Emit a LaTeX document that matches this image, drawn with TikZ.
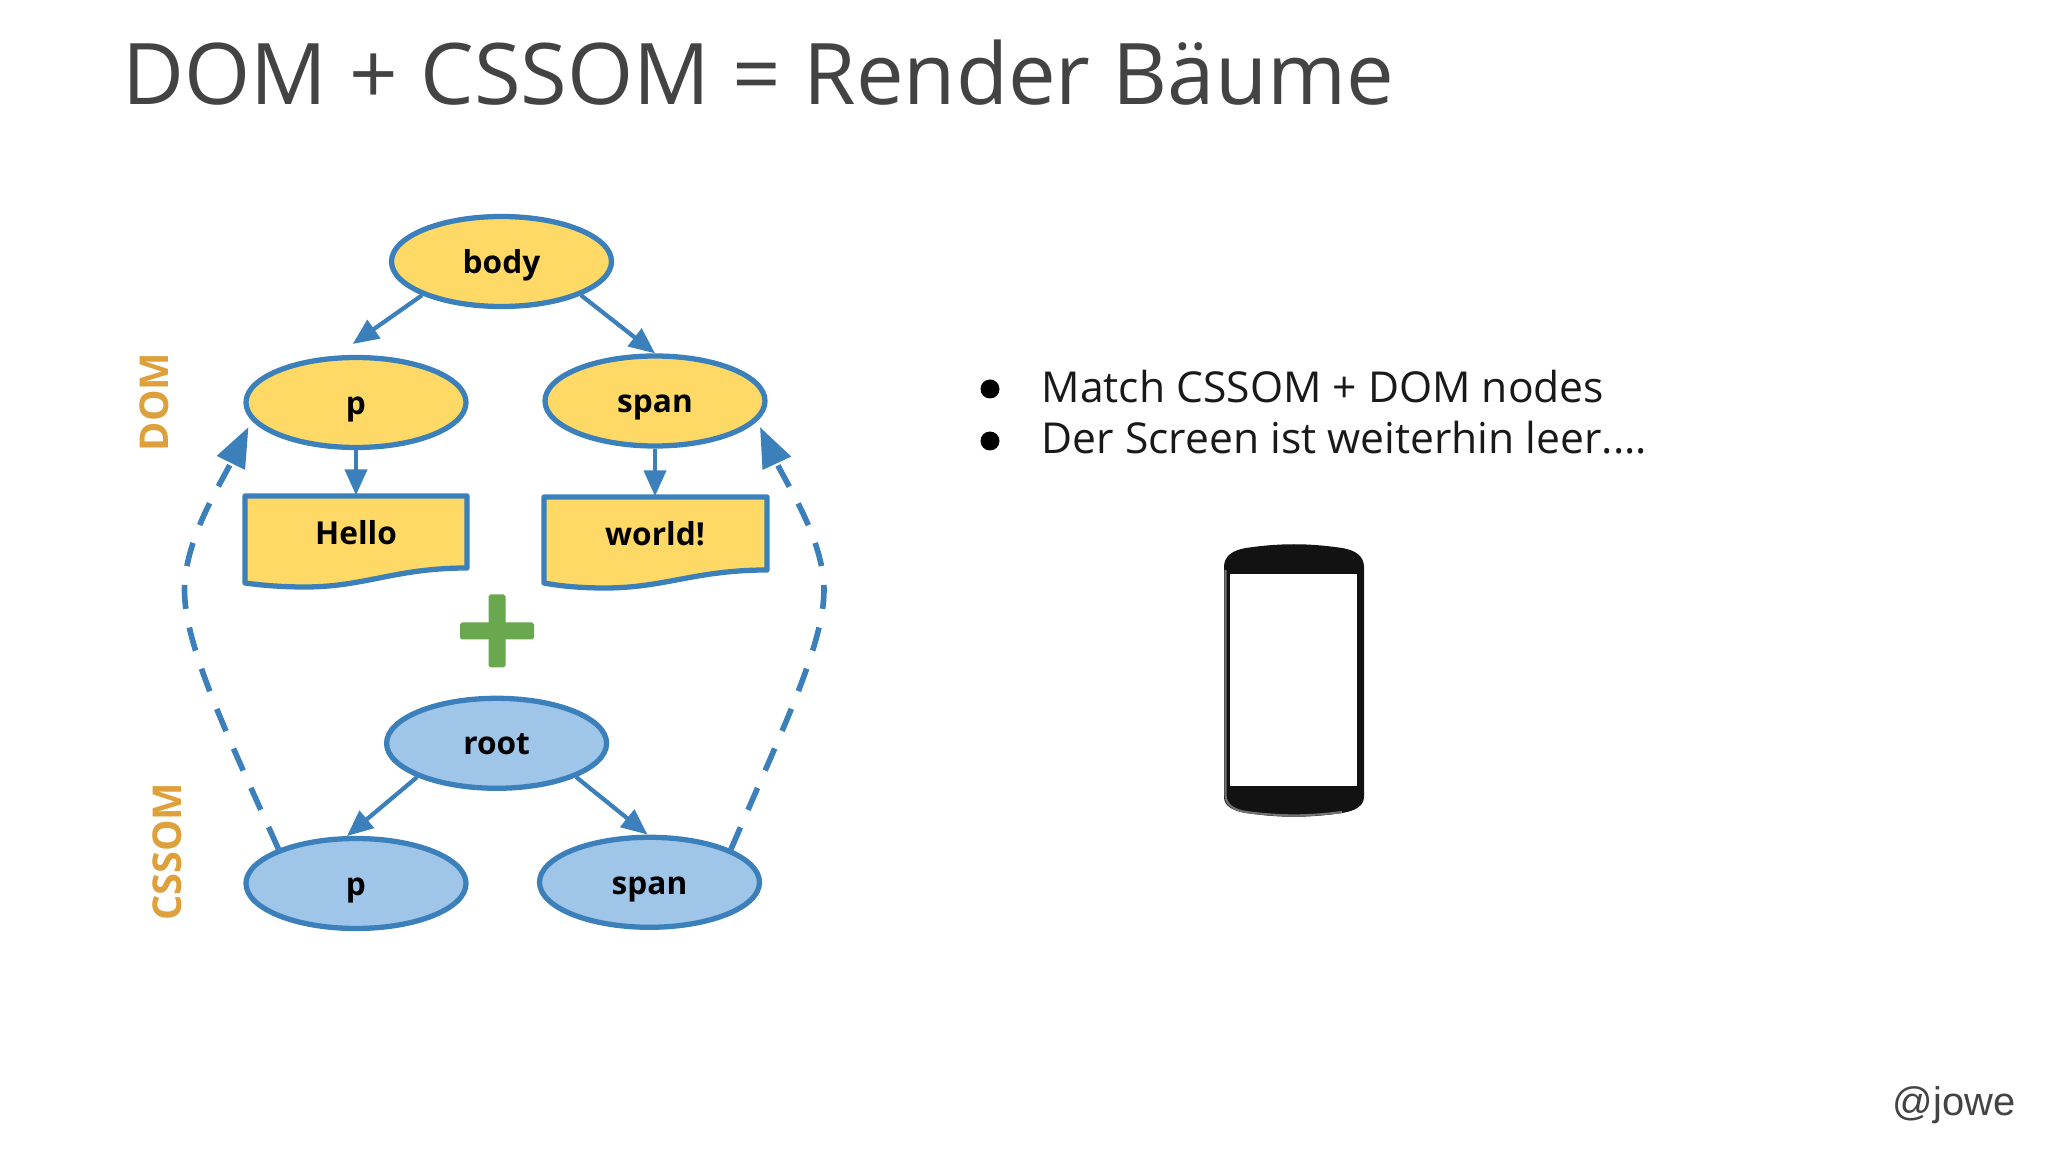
\documentclass[tikz,border=0pt]{standalone}
\usepackage{fontspec}
\setmainfont{Open Sans}
\newfontfamily\handlefont{Liberation Sans}
\usetikzlibrary{arrows.meta}
\usetikzlibrary{shapes.geometric}
\definecolor{nodeline}{HTML}{3B80BA}
\definecolor{domfill}{HTML}{FFD966}
\definecolor{cssfill}{HTML}{9FC5E8}
\definecolor{plusgreen}{HTML}{6AA84F}
\definecolor{sidelabel}{HTML}{DDA03B}
\definecolor{titlegrey}{HTML}{434343}
\definecolor{phoneblack}{HTML}{131213}
\tikzset{
    treenode/.style={ellipse, draw=nodeline, line width=1.5pt, minimum width=2.2cm, minimum height=0.9cm, inner sep=0pt, text height=0.3cm, text depth=0.066cm, font=\fontsize{9}{11}\bfseries},
    domnode/.style={treenode, fill=domfill},
    cssnode/.style={treenode, fill=cssfill},
    docshape/.style={draw=nodeline, fill=domfill, line width=1.5pt, line join=round},
    doctext/.style={minimum width=2.22cm, minimum height=0.74cm, inner sep=0pt, font=\fontsize{9}{11}\bfseries},
    treearrow/.style={draw=nodeline, line width=1.2pt, -{Triangle[length=0.26cm,width=0.22cm]}},
    matcharrow/.style={draw=nodeline, line width=1.6pt, dash pattern=on 0.24cm off 0.19cm, -{Triangle[length=0.4cm,width=0.3cm]}},
    sidetext/.style={text=sidelabel, rotate=90, inner sep=0pt, font=\fontsize{11.3}{13}\bfseries},
    bulletdot/.style={circle, fill=black, minimum size=0.19cm, inner sep=0pt},
    bullettext/.style={anchor=base west, inner sep=0pt, text=black!90, font=\fontsize{12.12}{15}\selectfont},
}
\begin{document}
\begin{tikzpicture}[x=1cm, y=-1cm]
                    \useasboundingbox[fill=white] (0,0) rectangle (20.48,11.52);

                    \node[anchor=base west, inner sep=0pt, text=titlegrey, font=\fontsize{24.2}{28}\selectfont] (title) at (1.22,1.045) {DOM + CSSOM = Render Bäume};

                    \begin{scope}
                		\node[domnode] (body) at (5.015, 2.615) {body};
                		\node[domnode] (p) at (3.56, 4.025) {p};
                		\node[domnode] (span) at (6.55, 4.01) {span};
                		\draw[docshape] (2.45, 4.96) -- (4.67, 4.96) -- (4.67, 5.68) .. controls (3.95, 5.68) and (3.65, 5.87) .. (3.05, 5.87) .. controls (2.8, 5.87) and (2.6, 5.85) .. (2.45, 5.83) -- cycle;
                		\draw[docshape] (5.44, 4.97) -- (7.67, 4.97) -- (7.67, 5.7) .. controls (6.95, 5.7) and (6.65, 5.88) .. (6.05, 5.88) .. controls (5.8, 5.88) and (5.6, 5.86) .. (5.44, 5.83) -- cycle;
                		\node[doctext] (hello) at (3.56, 5.33) {Hello};
                		\node[doctext] (world) at (6.55, 5.34) {world!};
                		\coordinate (ptop) at (3.527, 3.44);
                		\draw[treearrow] (body.203) to (ptop);
                		\draw[treearrow] (body.337) to (span.north);
                		\draw[treearrow] (p) to (hello.north);
                		\draw[treearrow] (span) to (world.north);
                		\node[sidetext] (domlabel) at (1.547, 4.02) {DOM};
                    \end{scope}

                    \node[fill=plusgreen, minimum width=0.17cm, minimum height=0.73cm, inner sep=0pt, rounded corners=0.5pt] (plusv) at (4.97, 6.31) {};
                    \node[fill=plusgreen, minimum width=0.74cm, minimum height=0.17cm, inner sep=0pt, rounded corners=0.5pt] (plush) at (4.97, 6.31) {};

                    \begin{scope}
                		\node[cssnode] (root) at (4.966, 7.433) {root};
                		\node[cssnode] (cssp) at (3.56, 8.835) {p};
                		\node[cssnode] (cssspan) at (6.495, 8.823) {span};
                		\coordinate (cssptop) at (3.47, 8.36);
                		\coordinate (cssspantop) at (6.474, 8.345);
                		\draw[treearrow] (root.203) to (cssptop);
                		\draw[treearrow] (root.337) to (cssspantop);
                		\node[sidetext] (csslabel) at (1.675, 8.517) {CSSOM};
                		\coordinate (leftbend) at (1.845, 5.9);
                		\coordinate (rightbend) at (8.24, 5.9);
                		\coordinate (ptip) at (2.485, 4.27);
                		\coordinate (spantip) at (7.6, 4.27);
                		\draw[matcharrow] (cssp.156) .. controls (2.25, 7.3) and (1.845, 6.45) .. (leftbend) .. controls (1.845, 5.4) and (2.2, 4.85) .. (ptip);
                		\draw[matcharrow] (cssspan.22) .. controls (7.82, 7.3) and (8.24, 6.45) .. (rightbend) .. controls (8.24, 5.4) and (7.87, 4.85) .. (spantip);
                    \end{scope}

                    \node[bulletdot] (dot1) at (9.9, 3.89) {};
                    \node[bulletdot] (dot2) at (9.9, 4.41) {};
                    \node[bullettext] (item1) at (10.41, 4.025) {Match CSSOM + DOM nodes};
                    \node[bullettext] (item2) at (10.41, 4.535) {Der Screen ist weiterhin leer....};

                    \fill[phoneblack] (12.24, 5.67) .. controls (12.24, 5.56) and (12.33, 5.5) .. (12.46, 5.48) .. controls (12.8, 5.43) and (13.08, 5.43) .. (13.42, 5.48) .. controls (13.55, 5.5) and (13.64, 5.56) .. (13.64, 5.67) -- (13.64, 7.97) .. controls (13.64, 8.06) and (13.55, 8.11) .. (13.42, 8.13) .. controls (13.08, 8.18) and (12.8, 8.18) .. (12.46, 8.13) .. controls (12.33, 8.11) and (12.24, 8.06) .. (12.24, 7.97) -- cycle;
                    \draw[black!55, line width=0.6pt] (12.255, 5.7) -- (12.255, 7.95) .. controls (12.255, 8.05) and (12.34, 8.1) .. (12.46, 8.12) .. controls (12.8, 8.165) and (13.08, 8.165) .. (13.42, 8.12);
                    \fill[white] (12.303, 5.74) rectangle (13.573, 7.857);

                    \node[anchor=base east, inner sep=0pt, text=titlegrey, font=\handlefont\fontsize{11.35}{13}\selectfont] (handle) at (20.16, 11.15) {@jowe};
                \end{tikzpicture}
\end{document}
